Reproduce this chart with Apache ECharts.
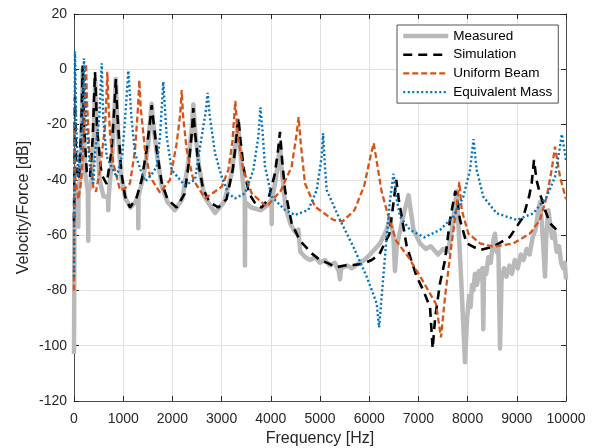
<!DOCTYPE html>
<html><head><meta charset="utf-8">
<script src="https://cdn.jsdelivr.net/npm/echarts/dist/echarts.min.js"></script>
<style>html,body{margin:0;padding:0;background:#fff}#c{width:596px;height:448px}</style>
</head><body><div id="c"></div>
<script>
// ---- data (frequency in Hz, level in dB) ----
const seriesNames = ['Measured', 'Simulation', 'Uniform Beam', 'Equivalent Mass'];
const xTicks = [0,1000,2000,3000,4000,5000,6000,7000,8000,9000,10000];
const yTicks = [-120,-100,-80,-60,-40,-20,0,20];

const measuredF = [0,10,30,60,85,88,92,130,160,177,195,230,280,289,291,294,350,400,430,460,520,600,690,697,705,780,830,850,870,950,1050,1150,1250,1303,1307,1312,1420,1510,1560,1579,1600,1680,1780,1900,2050,2200,2320,2390,2425,2460,2540,2650,2866,3050,3200,3290,3330,3370,3430,3470,3475,3480,3600,3800,3950,4015,4018,4022,4100,4160,4187,4220,4300,4400,4500,4560,4600,4700,4800,4900,5000,5100,5200,5300,5380,5407,5430,5550,5650,5800,5900,6016,6220,6355,6423,6490,6524,6560,6694,6800,6900,7033,7150,7250,7400,7500,7600,7680,7740,7778,7830,7880,7947,7990,8030,8060,8090,8116,8150,8190,8230,8270,8300,8319,8335,8380,8420,8470,8520,8557,8590,8625,8659,8690,8740,8790,8850,8900,8960,9020,9080,9140,9200,9260,9320,9380,9430,9472,9510,9545,9573,9600,9641,9680,9720,9760,9810,9860,9900,9946,9975,10000];
const measuredV = [-103,-55,-44,-46,-44,-57,-44,-38,-20,0,-20,-38,-44,-44,-62,-44,-42,-25,-4,-22,-40,-46,-46,-51,-46,-30,-12,-3.5,-15,-38,-47,-50,-48,-46,-57.5,-46,-38,-27,-16,-12.5,-18,-30,-42,-48,-51,-47,-34,-22,-12.7,-22,-35,-46,-52,-48,-38,-26,-18.5,-28,-40,-47,-71,-48,-50,-51,-49,-47,-56,-47,-40,-32,-27,-36,-50,-56,-59,-58,-66,-68,-69,-68,-70,-69,-71,-70,-73,-76,-72,-71,-72,-70,-69,-67,-63,-58,-54,-60,-73,-64,-53,-45.5,-58,-63,-65,-64,-67,-65,-66,-58,-50,-44,-62,-80,-106,-90,-82,-86,-78,-80,-74,-78,-73,-76,-72,-94,-72,-74,-68,-70,-62,-59.5,-66,-64,-101,-76,-72,-75,-71,-74,-69,-72,-67,-69,-65,-67,-61,-58,-52,-48,-56,-66,-75,-60,-51,-56,-61,-59,-66,-64,-70,-72,-70,-76];

const simulationF = [0,20,45,100,150,177,200,260,325,380,427,470,560,664,760,820,850,880,960,1037,1138,1270,1376,1477,1545,1579,1615,1680,1782,1900,2087,2250,2340,2400,2425,2455,2520,2620,2750,2934,3100,3230,3300,3340,3380,3450,3560,3700,3814,3950,4080,4150,4187,4230,4289,4424,4593,4831,5000,5169,5325,5500,5677,5867,6050,6205,6340,6409,6457,6510,6550,6600,6660,6762,6965,7100,7236,7290,7340,7439,7541,7642,7710,7750,7800,7846,7981,8252,8523,8862,9133,9250,9302,9350,9400,9472,9575,9675,9776,9800];
const simulationV = [-55,-10,-35,-40,-20,1.4,-20,-37,-39,-25,-1,-22,-38,-41.5,-30,-14,-3.5,-16,-37,-46,-50,-46.5,-40,-29,-19,-13,-19,-29,-41,-47,-50,-45,-33,-22,-14,-22,-33,-43,-48,-50,-47,-36,-25,-17.5,-25,-36,-45,-49,-50,-47,-38,-29,-22.6,-33,-43.7,-55.7,-62,-66.6,-69,-70.2,-71.6,-71,-70.8,-70.4,-69,-67,-62,-59.6,-53.3,-46,-40,-47,-53.3,-64,-75,-80,-86,-101,-90,-77.4,-69,-54.5,-48,-44,-49,-54.5,-63,-65.4,-64.2,-60.6,-53.3,-46,-41.3,-32.8,-40,-45,-51,-55.7,-57.5,-58];

const uniformF = [0,6,30,90,150,190,225,244,265,311,392,447,528,630,660,677,700,732,800,935,1040,1138,1240,1300,1328,1356,1443,1545,1748,1951,2087,2160,2189,2218,2290,2425,2663,3002,3137,3220,3279,3330,3441,3612,3916,4200,4424,4526,4565,4610,4695,4898,5271,5461,5700,5900,6020,6091,6150,6250,6355,6545,6800,7087,7358,7459,7541,7676,7778,7832,7880,8015,8252,8523,8929,9268,9472,9607,9709,9776,9878,10000];
const uniformV = [-80,-20,-40,-47,-40,-27,-12,2,-12,-29,-42.5,-44.3,-36.4,-20.8,-10,-0.9,-12,-23.2,-34,-43.7,-43,-41.3,-29.2,-14,-3.9,-14,-29.2,-38.9,-44.6,-40,-26.8,-16,-7.5,-17,-29.2,-40,-46.7,-42.5,-36.4,-26,-11.4,-24,-36.4,-44.9,-49.7,-44,-35.2,-23.2,-17.3,-27,-41.3,-49.7,-54.5,-55,-51,-42,-32,-26.7,-33,-44,-51,-62,-68,-76.5,-84.9,-97,-82.3,-63,-49.7,-40.7,-50.9,-59.4,-63,-64.2,-63,-59.4,-54.5,-46.1,-36.4,-28,-38.9,-47];

const equivF = [0,20,45,88,150,176,203,244,325,393,427,515,563,596,664,868,980,1037,1104,1172,1240,1376,1450,1580,1680,1748,1815,1884,1985,2250,2459,2595,2680,2717,2760,2866,3002,3137,3272,3476,3645,3747,3790,3830,3882,4018,4289,4492,4762,4933,5034,5062,5100,5136,5407,5677,5949,6152,6200,6245,6287,6355,6423,6495,6560,6626,6829,7120,7439,7710,7913,8049,8120,8185,8319,8591,8998,9336,9607,9776,9878,9915,9980,10000];
const equivV = [-75,6.4,-20,-39,-28,-14.7,4,-18.4,-35.2,-41.3,-30.4,-17.2,2.2,-18.4,-31.6,-39,-31,-18.4,-0.5,-18.4,-30.4,-37.6,-40.5,-38,-35.2,-24.4,-4.5,-24.4,-36.4,-42,-40,-24.4,-15,-8.5,-17,-30.4,-38.9,-44.9,-46.7,-44.9,-36.4,-24.4,-13.8,-22,-35.2,-46.1,-50.9,-52.7,-50.9,-43.7,-31.6,-23.2,-35,-43.7,-54.5,-64.2,-75,-84.7,-93.4,-84,-75,-60.6,-47.3,-37.8,-47,-53.3,-58.1,-60.8,-58.1,-53.3,-46.1,-36.4,-25.3,-36.4,-46.1,-52.1,-54.5,-52.1,-46.1,-38.9,-28,-23.5,-30.4,-33];

function pairs(f, v) { return f.map((x, i) => [x, v[i]]); }

const FONT = 'Liberation Sans, Arial, Helvetica, sans-serif';
const TXT = '#262626';
const plain = v => String(v);
const styles = [
  {color: '#b9b9b9', width: 4.5, type: 'solid', join: 'round'},
  {color: '#000000', width: 2.6, type: [9, 6]},
  {color: '#D95319', width: 2.3, type: [6, 3]},
  {color: '#0072BD', width: 2.4, type: [2, 2.5]}
];
const datasets = [pairs(measuredF, measuredV), pairs(simulationF, simulationV),
                  pairs(uniformF, uniformV), pairs(equivF, equivV)];

const chart = echarts.init(document.getElementById('c'), null, {renderer: 'canvas'});
chart.setOption({
  animation: false,
  backgroundColor: '#ffffff',
  grid: {left: 74, right: 30, top: 14, bottom: 47, containLabel: false, outerBoundsMode: 'none'},
  legend: {
    orient: 'vertical', left: 397, top: 25,
    padding: [4, 6, 4, 4], itemWidth: 45, itemHeight: 14, itemGap: 4.7,
    backgroundColor: '#ffffff', borderColor: TXT, borderWidth: 0.8, borderRadius: 0,
    itemStyle: {opacity: 0},
    textStyle: {fontFamily: FONT, fontSize: 13.5, color: '#000'},
    data: seriesNames.map((n, i) => ({name: n, lineStyle: {width: styles[i].width, type: styles[i].type, color: styles[i].color}}))
  },
  xAxis: [{
    type: 'value', min: xTicks[0], max: xTicks[xTicks.length-1], interval: 1000,
    name: 'Frequency [Hz]', nameLocation: 'middle', nameGap: 29,
    nameTextStyle: {fontFamily: FONT, fontSize: 16, color: TXT},
    axisLine: {show: true, onZero: false, lineStyle: {color: TXT, width: 0.8}},
    axisTick: {show: true, inside: true, length: 5, lineStyle: {color: TXT}},
    axisLabel: {fontFamily: FONT, fontSize: 14, color: TXT, margin: 11, formatter: plain},
    splitLine: {show: true, lineStyle: {color: '#e1e1e1', width: 1}}
  }, {
    type: 'value', position: 'top', min: 0, max: 10000, interval: 1000,
    axisLine: {show: true, onZero: false, lineStyle: {color: TXT, width: 0.8}},
    axisTick: {show: true, inside: true, length: 5, lineStyle: {color: TXT}},
    axisLabel: {show: false}, splitLine: {show: false}
  }],
  yAxis: [{
    type: 'value', min: yTicks[0], max: yTicks[yTicks.length-1], interval: 20,
    name: 'Velocity/Force [dB]', nameLocation: 'middle', nameGap: 42, nameMoveOverlap: false,
    nameTextStyle: {fontFamily: FONT, fontSize: 16, color: TXT},
    axisLine: {show: true, onZero: false, lineStyle: {color: TXT, width: 0.8}},
    axisTick: {show: true, inside: true, length: 5, lineStyle: {color: TXT}},
    axisLabel: {fontFamily: FONT, fontSize: 14, color: TXT, margin: 7, formatter: plain},
    splitLine: {show: true, lineStyle: {color: '#e1e1e1', width: 1}}
  }, {
    type: 'value', position: 'right', min: -120, max: 20, interval: 20,
    axisLine: {show: true, onZero: false, lineStyle: {color: TXT, width: 0.8}},
    axisTick: {show: true, inside: true, length: 5, lineStyle: {color: TXT}},
    axisLabel: {show: false}, splitLine: {show: false}
  }],
  series: seriesNames.map((n, i) => ({
    name: n, type: 'line', data: datasets[i], symbol: 'none',
    lineStyle: styles[i], itemStyle: {color: styles[i].color}
  }))
});
</script>
</body></html>
